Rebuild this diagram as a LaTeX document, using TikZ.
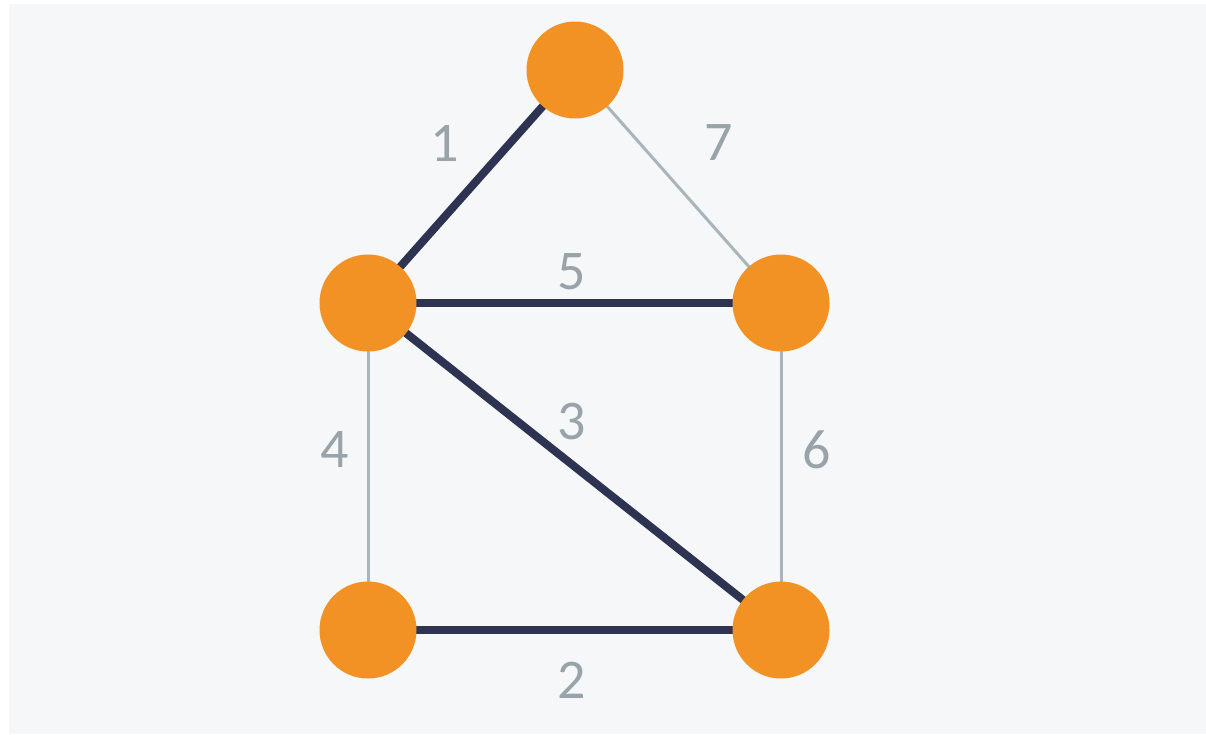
\documentclass[tikz,border=0pt]{standalone}
\usepackage{fontspec}
\setmainfont{Carlito}
\definecolor{bg}{HTML}{F5F7F9}
\definecolor{vert}{HTML}{F39224}
\definecolor{dark}{HTML}{2E3352}
\definecolor{lite}{HTML}{A9B5BA}
\definecolor{lbl}{HTML}{98A4A9}
\begin{document}
\begin{tikzpicture}[x=1pt,y=-1pt,
  vtx/.style={circle,fill=vert,minimum size=97pt,inner sep=0pt},
  heavy/.style={draw=dark,line width=8pt},
  lightedge/.style={draw=lite,line width=3pt},
  wlab/.style={text=lbl,font=\fontsize{56}{60}\selectfont,inner sep=0pt}]
\useasboundingbox (0,0) rectangle (1206,734);
\fill[white] (0,0) rectangle (1206,734);
\fill[bg] (9,4) rectangle (1206,734);
\coordinate (A) at (575,70);
\coordinate (B) at (368,303);
\coordinate (C) at (781,303);
\coordinate (D) at (368,630);
\coordinate (E) at (781,630);
\draw[lightedge] (A) -- (C);
\draw[lightedge] (B) -- (D);
\draw[lightedge] (C) -- (E);
\draw[heavy] (A) -- (B);
\draw[heavy] (B) -- (C);
\draw[heavy] (B) -- (E);
\draw[heavy] (D) -- (E);
\node[vtx] (nA) at (A) {};
\node[vtx] (nB) at (B) {};
\node[vtx] (nC) at (C) {};
\node[vtx] (nD) at (D) {};
\node[vtx] (nE) at (E) {};
\node[wlab] (l1) at (445,143) {1};
\node[wlab] (l7) at (719,143) {7};
\node[wlab] (l5) at (572,272) {5};
\node[wlab] (l3) at (572,422) {3};
\node[wlab] (l4) at (335,450) {4};
\node[wlab] (l6) at (817,450) {6};
\node[wlab] (l2) at (572,680) {2};
\end{tikzpicture}
\end{document}
